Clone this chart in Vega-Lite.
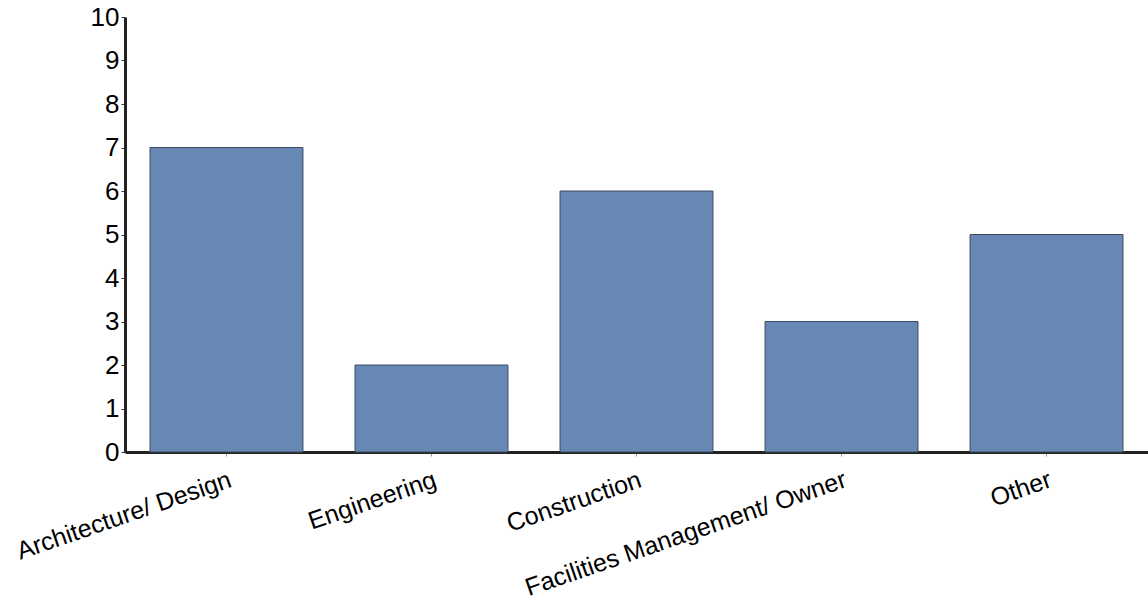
{
  "$schema": "https://vega.github.io/schema/vega-lite/v6.json",
  "autosize": {"type": "none"},
  "padding": {"left": 125, "top": 17, "right": 0, "bottom": 154},
  "width": 1023,
  "height": 435,
  "background": "white",
  "config": {"view": {"stroke": null}, "font": "Liberation Sans"},
  "data": {"values": [
    {"category": "Architecture/ Design", "count": 7},
    {"category": "Engineering", "count": 2},
    {"category": "Construction", "count": 6},
    {"category": "Facilities Management/ Owner", "count": 3},
    {"category": "Other", "count": 5}
  ]},
  "mark": {"type": "bar", "color": "#6787b4", "stroke": "#3f4c5f", "strokeWidth": 1},
  "encoding": {
    "x": {
      "field": "category", "type": "nominal", "sort": null,
      "scale": {"paddingInner": 0.254, "paddingOuter": 0.122},
      "axis": {
        "title": null, "labelAngle": -19, "labelAlign": "right", "labelBaseline": "top",
        "labelFont": "Liberation Sans", "labelFontSize": 25, "labelColor": "#000",
        "labelPadding": 11, "labelLimit": 0,
        "domainColor": "#222", "domainWidth": 3,
        "tickColor": "#999", "tickSize": 4, "tickWidth": 1, "grid": false
      }
    },
    "y": {
      "field": "count", "type": "quantitative",
      "scale": {"domain": [0, 10]},
      "axis": {
        "title": null, "values": [0,1,2,3,4,5,6,7,8,9,10], "grid": false,
        "labelFont": "Liberation Sans", "labelFontSize": 26, "labelColor": "#000",
        "labelPadding": 2, "labelBaseline": "middle",
        "domainColor": "#222", "domainWidth": 3,
        "tickColor": "#333", "tickSize": 4, "tickWidth": 1
      }
    }
  }
}
